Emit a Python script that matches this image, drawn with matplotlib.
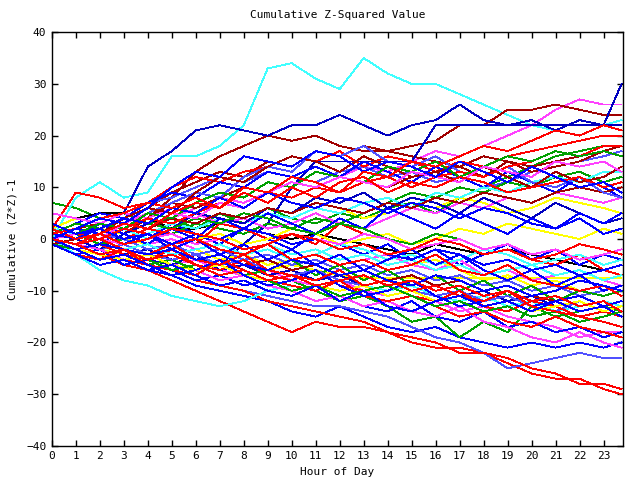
import matplotlib
matplotlib.use("Agg")
import matplotlib.pyplot as plt

# hour of day for each sample
hours = list(range(24)) + [23.75]

# cumulative (z*z)-1 runs, grouped by line colour
red_runs = [
    [0, -2, -3, -5, -6, -8, -10, -12, -14, -16, -18, -16, -17, -17, -18, -20, -21, -21, -22, -24, -26, -27, -27, -29, -30],
    [0, -1, -2, -4, -5, -6, -8, -9, -10, -12, -13, -14, -15, -16, -18, -19, -20, -22, -22, -23, -25, -26, -28, -28, -29],
    [2, 9, 8, 6, 7, 10, 12, 11, 13, 14, 16, 15, 17, 14, 16, 15, 13, 15, 14, 16, 17, 18, 19, 20, 20],
    [1, 3, 2, 0, 2, 1, -1, 3, 2, 0, 1, -1, 3, 1, 0, -2, 0, -1, -3, -2, -4, -5, -3, -6, -7],
    [0, -2, -1, -3, -4, -2, -5, -6, -4, -7, -8, -6, -9, -10, -9, -11, -12, -10, -13, -14, -12, -13, -15, -14, -15],
    [-1, -3, -4, -2, -5, -6, -7, -4, -6, -8, -9, -10, -8, -11, -12, -11, -13, -15, -14, -16, -17, -15, -17, -18, -19],
    [0, 1, 3, 2, 4, 3, 5, 7, 6, 9, 8, 10, 9, 11, 12, 10, 12, 13, 12, 14, 15, 17, 16, 18, 18],
    [3, 1, 0, 2, 1, -1, 0, -2, -3, -1, -4, -3, -5, -4, -6, -5, -3, -6, -7, -5, -8, -9, -10, -9, -11],
    [0, -1, 0, -2, -3, -1, -4, -5, -3, -6, -7, -8, -6, -9, -8, -10, -9, -11, -12, -10, -13, -14, -15, -16, -17],
    [1, 2, 4, 5, 7, 6, 8, 6, 9, 7, 10, 8, 11, 12, 9, 11, 10, 12, 11, 9, 10, 11, 12, 10, 11],
    [0, -1, -3, -2, -4, -3, -5, -7, -6, -8, -7, -9, -8, -7, -9, -8, -10, -9, -11, -10, -12, -11, -13, -12, -14],
    [2, 0, 1, -1, 0, 2, 1, 0, -2, -1, 1, 0, -2, -1, -3, -2, 0, -1, -3, -2, -4, -3, -1, -2, -3],
    [0, -1, 1, 3, 2, 5, 7, 6, 10, 9, 12, 11, 9, 13, 12, 15, 14, 16, 18, 17, 19, 21, 20, 22, 21],
]
blue_runs = [
    [0, -2, -3, -4, -6, -7, -9, -10, -11, -12, -14, -15, -13, -15, -17, -18, -17, -19, -20, -21, -20, -21, -20, -21, -20],
    [0, 1, -1, 2, 0, 3, 1, -1, 2, 0, -2, 1, -1, -3, -1, -4, -2, -5, -3, -1, -4, -2, -5, -3, -4],
    [1, 3, 5, 4, 7, 9, 8, 11, 10, 13, 12, 14, 12, 15, 13, 11, 14, 12, 10, 13, 11, 9, 12, 10, 8],
    [-1, -3, -2, -5, -4, -6, -8, -7, -9, -8, -10, -12, -11, -13, -14, -12, -15, -16, -14, -17, -16, -18, -17, -19, -18],
    [2, 0, 3, 1, -1, 2, 0, 4, 2, 5, 3, 1, 4, 2, 6, 4, 2, 5, 3, 1, 4, 2, 5, 3, 5],
    [0, -2, -4, -3, -5, -7, -6, -4, -7, -9, -8, -6, -9, -11, -10, -8, -11, -13, -12, -10, -13, -12, -14, -13, -15],
    [0, 2, 1, -1, 1, -2, 0, -3, -1, -4, -2, -5, -3, -6, -4, -2, -5, -3, -6, -8, -6, -9, -7, -10, -9],
    [1, 0, 2, 4, 3, 6, 5, 8, 6, 9, 7, 6, 8, 7, 5, 7, 6, 4, 6, 5, 3, 2, 4, 1, 2],
    [-1, -3, -5, -4, -6, -5, -7, -9, -8, -10, -11, -9, -12, -10, -13, -14, -12, -11, -13, -12, -14, -12, -11, -13, -12],
    [0, -2, -1, -2, -3, -2, -4, -3, -5, -6, -4, -5, -7, -6, -8, -9, -7, -8, -10, -9, -11, -10, -8, -9, -10],
    [3, 1, 2, 0, 1, -1, 1, 0, 2, 1, -1, 0, -2, -1, -3, -4, -2, -3, -5, -4, -6, -5, -7, -6, -5],
    [0, 2, 4, 3, 6, 10, 13, 12, 16, 15, 14, 17, 16, 13, 15, 14, 12, 15, 13, 11, 14, 12, 10, 11, 9],
]
navy_runs = [
    [2, 4, 3, 5, 14, 17, 21, 22, 21, 20, 22, 22, 24, 22, 20, 22, 23, 26, 23, 22, 23, 21, 23, 22, 30],
    [0, -2, -1, -3, -2, -4, -3, -5, -1, 3, 10, 15, 15, 15, 15, 15, 22, 22, 22, 22, 22, 22, 22, 22, 22],
    [0, -1, -3, -2, -4, -5, -3, -6, -5, -7, -6, -8, -7, -9, -8, -10, -9, -11, -10, -12, -11, -13, -12, -14, -13],
    [1, 0, -2, 1, 3, 2, 5, 4, 3, 6, 5, 8, 7, 9, 6, 8, 7, 5, 8, 6, 4, 7, 5, 3, 4],
]
slate_runs = [
    [0, -2, -3, -4, -5, -6, -7, -9, -10, -11, -12, -13, -13, -14, -15, -17, -19, -20, -22, -25, -24, -23, -22, -23, -23],
    [1, 2, 4, 5, 7, 8, 10, 12, 11, 13, 12, 11, 13, 14, 12, 13, 11, 12, 10, 11, 13, 14, 15, 16, 17],
    [0, -1, 1, 0, -2, -1, -3, -2, -4, -3, -5, -4, -6, -5, -7, -6, -8, -7, -9, -8, -10, -9, -11, -10, -9],
    [0, -1, -2, -1, -3, -4, -3, -5, -4, -6, -7, -6, -8, -9, -8, -10, -11, -10, -12, -11, -13, -14, -12, -14, -15],
    [0, 1, 3, 2, 5, 7, 9, 8, 12, 14, 13, 17, 16, 18, 15, 14, 16, 13, 12, 14, 11, 10, 12, 9, 8],
]
green_runs = [
    [7, 6, 4, 5, 3, 4, 2, 5, 3, 6, 4, 3, 5, 4, 6, 7, 5, 8, 10, 12, 14, 16, 17, 18, 18],
    [0, -2, -1, -3, -2, -4, -6, -5, -7, -9, -8, -10, -12, -11, -13, -16, -15, -19, -16, -18, -13, -15, -14, -13, -14],
    [0, 1, -1, 0, 2, 1, 3, 2, 1, 3, 2, 4, 3, 5, 7, 9, 8, 10, 9, 11, 10, 12, 13, 11, 12],
    [-1, -2, -4, -3, -5, -4, -6, -5, -7, -6, -4, -7, -5, -8, -6, -9, -7, -10, -8, -11, -9, -12, -10, -11, -10],
    [1, 3, 2, 4, 3, 2, 4, 3, 5, 4, 2, 1, 3, 2, 0, -1, 1, 0, -2, -1, -3, -2, -4, -3, -2],
    [0, -1, -3, -2, -4, -6, -5, -7, -6, -8, -10, -9, -11, -10, -9, -11, -13, -12, -14, -13, -15, -14, -16, -15, -14],
    [0, 1, 3, 2, 5, 4, 7, 9, 8, 11, 10, 13, 12, 11, 14, 13, 15, 12, 14, 16, 15, 17, 16, 17, 16],
]
magenta_runs = [
    [0, 2, 4, 3, 5, 4, 6, 8, 7, 9, 11, 10, 12, 14, 13, 15, 17, 16, 18, 20, 22, 25, 27, 26, 26],
    [0, -2, -3, -2, -4, -5, -4, -6, -7, -6, -8, -9, -8, -10, -11, -10, -12, -14, -13, -15, -16, -17, -19, -18, -18],
    [1, 0, 2, 1, -1, 0, -2, -1, -3, -2, -4, -3, -5, -4, -3, -5, -6, -4, -7, -6, -8, -7, -6, -8, -9],
    [5, 4, 3, 5, 4, 6, 5, 3, 4, 2, 3, 5, 3, 2, 4, 6, 5, 7, 6, 8, 7, 9, 8, 7, 8],
    [0, -1, -2, -4, -3, -5, -6, -8, -7, -9, -10, -12, -11, -13, -12, -14, -15, -13, -16, -17, -19, -20, -18, -20, -21],
    [0, 1, 0, -1, 0, 1, -1, 0, -2, -1, 1, 0, -1, 1, 0, -2, -1, 0, -2, -1, -3, -2, -4, -3, -2],
    [0, 1, 0, 3, 2, 5, 4, 7, 6, 9, 11, 10, 12, 11, 10, 13, 12, 11, 14, 13, 12, 15, 14, 15, 13],
]
cyan_runs = [
    [0, 8, 11, 8, 9, 16, 16, 18, 22, 33, 34, 31, 29, 35, 32, 30, 30, 28, 26, 24, 22, 21, 20, 22, 23],
    [0, -3, -6, -8, -9, -11, -12, -13, -12, -10, -9, -10, -8, -9, -10, -9, -11, -12, -11, -13, -12, -14, -13, -12, -13],
    [0, 1, 0, 2, 1, 3, 2, 4, 3, 5, 4, 6, 5, 7, 8, 6, 9, 8, 10, 9, 11, 12, 11, 13, 13],
    [2, 1, 3, 2, 0, 1, -1, 0, -2, -1, -3, -2, -4, -3, -5, -4, -6, -5, -7, -6, -5, -7, -6, -8, -7],
    [0, -1, 0, -2, -1, -3, -2, -1, -3, -2, -4, -3, -1, -2, -4, -3, -5, -4, -2, -3, -5, -4, -3, -5, -4],
]
yellow_runs = [
    [0, -1, -2, -3, -2, -4, -3, -5, -4, -6, -5, -6, -7, -7.5, -7.5, -7.5, -7.5, -7.5, -7.5, -7.5, -7.5, -7.5, -7.5, -7.5, -7.5],
    [2, 4, 3, 5, 4, 6, 5, 3, 4, 6, 5, 7, 6, 4, 5, 7, 6, 8, 7, 5, 6, 8, 7, 6, 5],
    [0, -1, 1, 0, -1, -3, -2, -4, -3, -5, -4, -3, -5, -4, -6, -5, -4, -6, -8, -7, -9, -8, -10, -9, -10],
    [1, 3, 2, 1, 3, 2, 0, 1, -1, 0, 2, 1, -1, 0, 1, -1, 0, 2, 1, 3, 2, 1, 0, 2, 1],
    [0, -2, -3, -4, -3, -5, -6, -5, -7, -8, -7, -9, -10, -9, -11, -10, -12, -11, -13, -12, -14, -13, -12, -14, -13],
]
black_runs = [
    [2, 4, 5, 5, 4, 2, 2, 3, 2, 1, 0, 1, 0, -1, -2, -3, -1, -2, -3, -2, -3, -4, -5, -6, -7],
]
darkred_runs = [
    [0, 2, 3, 1, 4, 8, 13, 16, 18, 20, 19, 20, 18, 17, 17, 18, 19, 22, 22, 25, 25, 26, 25, 24, 24],
    [1, 3, 5, 4, 6, 9, 11, 13, 12, 15, 14, 17, 16, 18, 17, 16, 15, 14, 16, 15, 14, 15, 16, 17, 18],
    [0, 1, 3, 5, 4, 7, 6, 8, 10, 9, 11, 10, 9, 11, 10, 12, 13, 14, 12, 15, 13, 14, 15, 17, 16],
    [-1, 0, -2, -1, -3, -2, -4, -3, -5, -4, -6, -5, -7, -6, -8, -7, -9, -8, -10, -9, -11, -12, -11, -13, -12],
    [0, -1, 1, 3, 2, 4, 3, 5, 4, 6, 5, 7, 6, 5, 7, 6, 8, 7, 9, 8, 7, 9, 10, 9, 10],
    [0, 2, 1, 4, 6, 5, 9, 12, 11, 14, 16, 15, 13, 16, 14, 12, 13, 11, 14, 12, 10, 13, 11, 12, 14],
]

groups = [
    (red_runs, "#ff0000"),
    (blue_runs, "#0000ff"),
    (green_runs, "#00a000"),
    (magenta_runs, "#ff40ff"),
    (cyan_runs, "#40ffff"),
    (yellow_runs, "#ffff00"),
    (black_runs, "#000000"),
    (darkred_runs, "#a00000"),
    (slate_runs, "#5050ff"),
    (navy_runs, "#0000c0"),
]

plt.rcParams["font.family"] = "DejaVu Sans Mono"
plt.rcParams["font.size"] = 8

fig = plt.figure(figsize=(6.4, 4.8), dpi=100)
ax = fig.add_axes([0.081, 0.071, 0.892, 0.862])

# interleave colours so no one colour sits on top of everything
longest = max(len(g[0]) for g in groups)
for i in range(longest):
    for runs, col in groups:
        if i < len(runs):
            ax.plot(hours, runs[i], color=col, lw=0.6, antialiased=False)

ax.set_xlim(0, 23.8)
ax.set_ylim(-40, 40)
ax.set_xticks(range(24))
ax.set_yticks(range(-40, 41, 10))
ax.tick_params(direction="in", length=4, width=1, top=True, right=True,
               labelsize=8, pad=4)
for s in ax.spines.values():
    s.set_linewidth(1)

ax.set_title("Cumulative Z-Squared Value", fontsize=8, pad=10)
ax.set_xlabel("Hour of Day", fontsize=8, labelpad=4)
ax.set_ylabel("Cumulative (Z*Z)-1", fontsize=8, labelpad=6)

fig.savefig("out.png", dpi=100)
